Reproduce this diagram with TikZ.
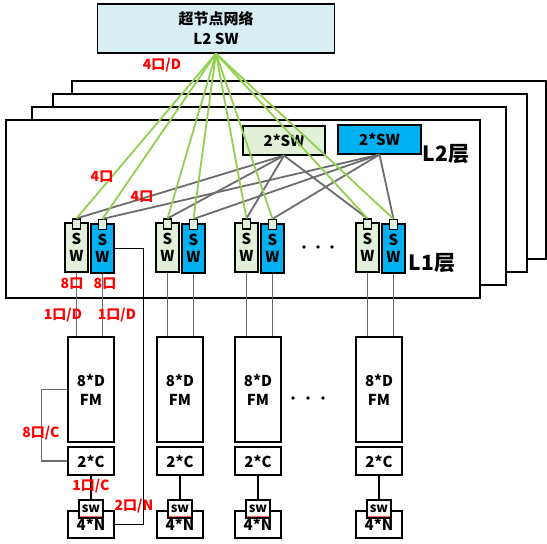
\documentclass[tikz,border=0pt]{standalone}
\usepackage{fontspec}
\setmainfont{Noto Sans CJK SC}
\usetikzlibrary{decorations.pathmorphing}
\definecolor{topcyan}{RGB}{216,239,244}
\definecolor{swgreen}{RGB}{226,240,217}
\definecolor{swblue}{RGB}{0,176,240}
\definecolor{linegreen}{RGB}{146,208,80}
\definecolor{linegray}{RGB}{108,108,108}
\tikzset{
  box/.style={draw, line width=1.1pt, inner sep=0pt, align=center, font=\bfseries\fontsize{15}{18}\selectfont},
  swg/.style={box, fill=swgreen, minimum width=23, minimum height=49, font=\bfseries\fontsize{15}{17}\selectfont},
  swb/.style={swg, fill=swblue},
  port/.style={draw, line width=1.1pt, fill=swgreen, minimum width=8, minimum height=10, inner sep=0pt},
  redlbl/.style={text=red, inner sep=0pt, font=\bfseries\fontsize{14}{16}\selectfont},
  gline/.style={draw=linegreen, line width=1.8pt},
  grline/.style={draw=linegray, line width=1.8pt}
}
\begin{document}
\begin{tikzpicture}[x=1pt,y=-1pt]
\useasboundingbox (0,0) rectangle (547,544);
% stacked supernode frames
\foreach \x/\y in {72/81, 53/94, 32/107, 6/120}
    \draw[line width=1.1pt, fill=white] (\x,\y) rectangle ++(474,178);

\node[box, fill=topcyan, minimum width=237, minimum height=49, font=\bfseries\fontsize{15}{20}\selectfont] (l2) at (216,28.5) {超节点网络\\L2 SW};
\node[box, fill=swgreen, minimum width=82, minimum height=29] (sg) at (284,140.5) {2*SW};
\node[box, fill=swblue, minimum width=83, minimum height=29] (sb) at (379.5,139.5) {2*SW};
\node[inner sep=0pt, font=\bfseries\fontsize{21}{21}\selectfont] (l2tag) at (446,154) {L2层};
\node[inner sep=0pt, font=\bfseries\fontsize{21}{21}\selectfont] (l1tag) at (432,263) {L1层};

% L1 switch pairs
\foreach \i/\x in {1/65,2/156,3/235,4/356}{
    \node[swg] (g\i) at (\x+11.5,247.5) {S\\W};
    \node[swb] (b\i) at (\x+37.5,248.5) {S\\W};
    \node[port] (pg\i) at (\x+11.5,224) {};
    \node[port] (pb\i) at (\x+37.5,224.5) {};
    \draw[grline] (sg.south) -- (pg\i.north);
    \draw[grline] (sb.south) -- (pb\i.north);
}
\foreach \i in {1,2,3,4}{
    \draw[gline] (l2.south) -- (pg\i.north);
    \draw[gline] (l2.south) -- (pb\i.north);
}
\foreach \x in {304,318,332}
    \fill (\x,247) circle (1.9);

% frame managers and their cards
\foreach \i/\x in {1/68,2/157,3/235,4/356}{
    \node[box, fill=white, minimum width=46, minimum height=105, font=\bfseries\fontsize{15}{19}\selectfont] (fm\i) at (\x+23,389.5) {8*D\\FM};
    \node[box, fill=white, minimum width=46, minimum height=28] (c\i) at (\x+23,461) {2*C};
    \node[box, fill=white, minimum width=46, minimum height=27] (n\i) at (\x+23,524.5) {4*N};
    \node[box, fill=white, minimum width=24, minimum height=18, font=\bfseries\fontsize{13}{13}\selectfont] (s\i) at (\x+23,509) {sw};
    \draw[red, line width=0.4pt, decorate, decoration={snake, amplitude=0.6pt, segment length=2.5pt}]
        ([xshift=1.5pt,yshift=2pt]s\i.south west) -- ([xshift=-1.5pt,yshift=2pt]s\i.south east);
    \draw[grline] (g\i.south) -- (g\i.south |- fm\i.north);
    \draw[grline] (b\i.south) -- (b\i.south |- fm\i.north);
    \draw[line width=1.6pt] (c\i.south) -- (s\i.north);
}
\foreach \x in {293,308,323}
    \fill (\x,398) circle (1.9);

\draw[grline] (fm1.west) -- ++(-26,0) |- (c1.west);
\draw[line width=1.1pt] (b1.east) -- ++(29,0) |- (n1.east);

% port labels
\node[redlbl] (q1) at (162,65) {4口/D};
\node[redlbl] (q2) at (102,177) {4口};
\node[redlbl] (q3) at (142,197) {4口};
\node[redlbl] (q4) at (72,284) {8口};
\node[redlbl] (q5) at (105,284) {8口};
\node[redlbl] (q6) at (63,315) {1口/D};
\node[redlbl] (q7) at (117,315) {1口/D};
\node[redlbl] (q8) at (41,433) {8口/C};
\node[redlbl] (q9) at (91,486) {1口/C};
\node[redlbl] (q10) at (134,506) {2口/N};
\end{tikzpicture}
\end{document}
